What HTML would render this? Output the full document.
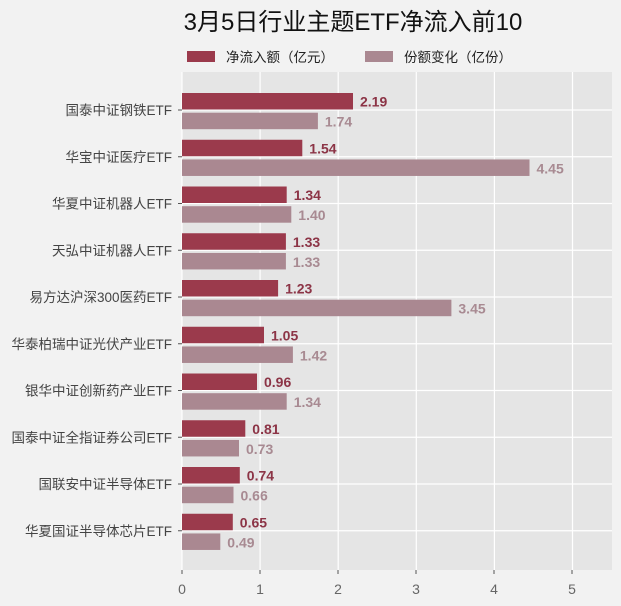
<!DOCTYPE html>
<html><head><meta charset="utf-8"><style>
body{margin:0;background:#f2f2f2;}
svg{display:block;font-family:"Liberation Sans","Noto Sans CJK SC",sans-serif;}
</style></head><body>
<svg width="621" height="606" xmlns="http://www.w3.org/2000/svg">
<rect width="621" height="606" fill="#f2f2f2"/>
<text x="353" y="30" font-size="24" text-anchor="middle" fill="#111">3月5日行业主题ETF净流入前10</text>
<rect x="187" y="51" width="28" height="11" fill="#9b3a4c"/>
<text x="226" y="62" font-size="13.5" fill="#222">净流入额（亿元）</text>
<rect x="365" y="51" width="28" height="11" fill="#aa8891"/>
<text x="404" y="62" font-size="13.5" fill="#222">份额变化（亿份）</text>
<rect x="182" y="72" width="430" height="498" fill="#e5e5e5"/>
<g stroke="#fff" stroke-width="1.2">
<line x1="182" x2="182" y1="72" y2="570"/><line x1="260.1" x2="260.1" y1="72" y2="570"/><line x1="338.2" x2="338.2" y1="72" y2="570"/><line x1="416.3" x2="416.3" y1="72" y2="570"/><line x1="494.4" x2="494.4" y1="72" y2="570"/><line x1="572.5" x2="572.5" y1="72" y2="570"/>
<line x1="182" x2="612" y1="110" y2="110"/><line x1="182" x2="612" y1="156.75" y2="156.75"/><line x1="182" x2="612" y1="203.5" y2="203.5"/><line x1="182" x2="612" y1="250.25" y2="250.25"/><line x1="182" x2="612" y1="297" y2="297"/><line x1="182" x2="612" y1="343.75" y2="343.75"/><line x1="182" x2="612" y1="390.5" y2="390.5"/><line x1="182" x2="612" y1="437.25" y2="437.25"/><line x1="182" x2="612" y1="484" y2="484"/><line x1="182" x2="612" y1="530.75" y2="530.75"/>
</g>
<g stroke="#555">
<line x1="178" x2="182" y1="110" y2="110"/><line x1="178" x2="182" y1="156.75" y2="156.75"/><line x1="178" x2="182" y1="203.5" y2="203.5"/><line x1="178" x2="182" y1="250.25" y2="250.25"/><line x1="178" x2="182" y1="297" y2="297"/><line x1="178" x2="182" y1="343.75" y2="343.75"/><line x1="178" x2="182" y1="390.5" y2="390.5"/><line x1="178" x2="182" y1="437.25" y2="437.25"/><line x1="178" x2="182" y1="484" y2="484"/><line x1="178" x2="182" y1="530.75" y2="530.75"/>
</g>
<g font-size="13.5" fill="#444" text-anchor="end">
<text x="172" y="115">国泰中证钢铁ETF</text>
<text x="172" y="161.75">华宝中证医疗ETF</text>
<text x="172" y="208.5">华夏中证机器人ETF</text>
<text x="172" y="255.25">天弘中证机器人ETF</text>
<text x="172" y="302">易方达沪深300医药ETF</text>
<text x="172" y="348.75">华泰柏瑞中证光伏产业ETF</text>
<text x="172" y="395.5">银华中证创新药产业ETF</text>
<text x="172" y="442.25">国泰中证全指证券公司ETF</text>
<text x="172" y="489">国联安中证半导体ETF</text>
<text x="172" y="535.75">华夏国证半导体芯片ETF</text>
</g>
<g fill="#9b3a4c">
<rect x="182" y="93" width="171" height="16.5"/>
<rect x="182" y="139.75" width="120.3" height="16.5"/>
<rect x="182" y="186.5" width="104.7" height="16.5"/>
<rect x="182" y="233.25" width="103.9" height="16.5"/>
<rect x="182" y="280" width="96.1" height="16.5"/>
<rect x="182" y="326.75" width="82" height="16.5"/>
<rect x="182" y="373.5" width="75" height="16.5"/>
<rect x="182" y="420.25" width="63.3" height="16.5"/>
<rect x="182" y="467" width="57.8" height="16.5"/>
<rect x="182" y="513.75" width="50.8" height="16.5"/>
</g>
<g fill="#aa8891">
<rect x="182" y="112.7" width="135.9" height="16.5"/>
<rect x="182" y="159.45" width="347.5" height="16.5"/>
<rect x="182" y="206.2" width="109.3" height="16.5"/>
<rect x="182" y="252.95" width="103.9" height="16.5"/>
<rect x="182" y="299.7" width="269.4" height="16.5"/>
<rect x="182" y="346.45" width="110.9" height="16.5"/>
<rect x="182" y="393.2" width="104.7" height="16.5"/>
<rect x="182" y="439.95" width="57" height="16.5"/>
<rect x="182" y="486.7" width="51.5" height="16.5"/>
<rect x="182" y="533.45" width="38.3" height="16.5"/>
</g>
<g font-size="14" font-weight="bold" fill="#8c3446">
<text x="360" y="106.5">2.19</text>
<text x="309.3" y="153.25">1.54</text>
<text x="293.7" y="200">1.34</text>
<text x="292.9" y="246.75">1.33</text>
<text x="285.1" y="293.5">1.23</text>
<text x="271" y="340.25">1.05</text>
<text x="264" y="387">0.96</text>
<text x="252.3" y="433.75">0.81</text>
<text x="246.8" y="480.5">0.74</text>
<text x="239.8" y="527.25">0.65</text>
</g>
<g font-size="14" font-weight="bold" fill="#a88a92">
<text x="324.9" y="126.5">1.74</text>
<text x="536.5" y="173.25">4.45</text>
<text x="298.3" y="220">1.40</text>
<text x="292.9" y="266.75">1.33</text>
<text x="458.4" y="313.5">3.45</text>
<text x="299.9" y="360.25">1.42</text>
<text x="293.7" y="407">1.34</text>
<text x="246" y="453.75">0.73</text>
<text x="240.5" y="500.5">0.66</text>
<text x="227.3" y="547.25">0.49</text>
</g>
<g font-size="14" fill="#666" text-anchor="middle">
<text x="182" y="594">0</text><text x="260" y="594">1</text><text x="338" y="594">2</text><text x="416" y="594">3</text><text x="494" y="594">4</text><text x="572" y="594">5</text>
</g>
<g stroke="#555"><line x1="182" x2="182" y1="570" y2="574"/><line x1="260" x2="260" y1="570" y2="574"/><line x1="338" x2="338" y1="570" y2="574"/><line x1="416" x2="416" y1="570" y2="574"/><line x1="494" x2="494" y1="570" y2="574"/><line x1="572" x2="572" y1="570" y2="574"/></g>
</svg>
</body></html>
